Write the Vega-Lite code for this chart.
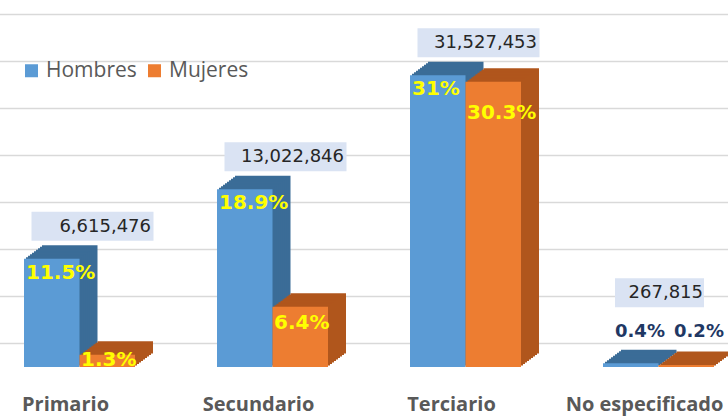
{
  "$schema": "https://vega.github.io/schema/vega-lite/v6.json",
  "width": 728,
  "height": 367,
  "autosize": {"type": "none"},
  "padding": {"left": 0, "top": 0, "right": 0, "bottom": 49},
  "background": "#ffffff",
  "config": {"view": {"stroke": null}},
  "data": {"values": [
    {"nivel": "Primario", "sexo": "Hombres", "pct": 0.115, "total": 6615476},
    {"nivel": "Primario", "sexo": "Mujeres", "pct": 0.013, "total": 6615476},
    {"nivel": "Secundario", "sexo": "Hombres", "pct": 0.189, "total": 13022846},
    {"nivel": "Secundario", "sexo": "Mujeres", "pct": 0.064, "total": 13022846},
    {"nivel": "Terciario", "sexo": "Hombres", "pct": 0.31, "total": 31527453},
    {"nivel": "Terciario", "sexo": "Mujeres", "pct": 0.303, "total": 31527453},
    {"nivel": "No especificado", "sexo": "Hombres", "pct": 0.004, "total": 267815},
    {"nivel": "No especificado", "sexo": "Mujeres", "pct": 0.002, "total": 267815}
  ]},
  "encoding": {
    "x": {"field": "nivel", "type": "nominal", "sort": null,
      "scale": {"type": "band", "domain": ["Primario", "Secundario", "Terciario", "No especificado"], "range": [-17, 755], "paddingInner": 0, "paddingOuter": 0},
      "axis": {"title": null, "labelFont": "Open Sans", "labelFontWeight": "bold", "labelFontSize": 20, "labelColor": "#595959", "labelPadding": 43, "labelBaseline": "alphabetic", "labelOffset": -14, "ticks": false, "tickSize": 0, "domain": false, "labelAngle": 0, "grid": false}},
    "y": {"field": "pct", "type": "quantitative",
      "scale": {"domain": [0, 0.39], "nice": false, "zero": true},
      "axis": {"title": null, "labels": false, "ticks": false, "domain": false, "grid": true, "values": [0.025, 0.075, 0.125, 0.175, 0.225, 0.275, 0.325, 0.375], "gridColor": "#d9d9d9", "gridWidth": 1.5}}
  },
  "layer": [
    {"transform": [{"filter": "datum.sexo === 'Hombres'"}], "mark": {"type": "bar", "width": 55.5, "xOffset": -9.75, "yOffset": -13.5, "y2Offset": -13.5, "color": "#3b6c97"}},
    {"transform": [{"filter": "datum.sexo === 'Hombres'"}], "mark": {"type": "bar", "width": 55.5, "xOffset": -11.75, "yOffset": -12, "y2Offset": -12, "color": "#3b6c97"}},
    {"transform": [{"filter": "datum.sexo === 'Hombres'"}], "mark": {"type": "bar", "width": 55.5, "xOffset": -13.75, "yOffset": -10.5, "y2Offset": -10.5, "color": "#3b6c97"}},
    {"transform": [{"filter": "datum.sexo === 'Hombres'"}], "mark": {"type": "bar", "width": 55.5, "xOffset": -15.75, "yOffset": -9, "y2Offset": -9, "color": "#3b6c97"}},
    {"transform": [{"filter": "datum.sexo === 'Hombres'"}], "mark": {"type": "bar", "width": 55.5, "xOffset": -17.75, "yOffset": -7.5, "y2Offset": -7.5, "color": "#3b6c97"}},
    {"transform": [{"filter": "datum.sexo === 'Hombres'"}], "mark": {"type": "bar", "width": 55.5, "xOffset": -19.75, "yOffset": -6, "y2Offset": -6, "color": "#3b6c97"}},
    {"transform": [{"filter": "datum.sexo === 'Hombres'"}], "mark": {"type": "bar", "width": 55.5, "xOffset": -21.75, "yOffset": -4.5, "y2Offset": -4.5, "color": "#3b6c97"}},
    {"transform": [{"filter": "datum.sexo === 'Hombres'"}], "mark": {"type": "bar", "width": 55.5, "xOffset": -23.75, "yOffset": -3, "y2Offset": -3, "color": "#3b6c97"}},
    {"transform": [{"filter": "datum.sexo === 'Hombres'"}], "mark": {"type": "bar", "width": 55.5, "xOffset": -25.75, "yOffset": -1.5, "y2Offset": -1.5, "color": "#3b6c97"}},
    {"transform": [{"filter": "datum.sexo === 'Mujeres'"}], "mark": {"type": "bar", "width": 55.5, "xOffset": 45.75, "yOffset": -13.5, "y2Offset": -13.5, "color": "#b0561c"}},
    {"transform": [{"filter": "datum.sexo === 'Mujeres'"}], "mark": {"type": "bar", "width": 55.5, "xOffset": 43.75, "yOffset": -12, "y2Offset": -12, "color": "#b0561c"}},
    {"transform": [{"filter": "datum.sexo === 'Mujeres'"}], "mark": {"type": "bar", "width": 55.5, "xOffset": 41.75, "yOffset": -10.5, "y2Offset": -10.5, "color": "#b0561c"}},
    {"transform": [{"filter": "datum.sexo === 'Mujeres'"}], "mark": {"type": "bar", "width": 55.5, "xOffset": 39.75, "yOffset": -9, "y2Offset": -9, "color": "#b0561c"}},
    {"transform": [{"filter": "datum.sexo === 'Mujeres'"}], "mark": {"type": "bar", "width": 55.5, "xOffset": 37.75, "yOffset": -7.5, "y2Offset": -7.5, "color": "#b0561c"}},
    {"transform": [{"filter": "datum.sexo === 'Mujeres'"}], "mark": {"type": "bar", "width": 55.5, "xOffset": 35.75, "yOffset": -6, "y2Offset": -6, "color": "#b0561c"}},
    {"transform": [{"filter": "datum.sexo === 'Mujeres'"}], "mark": {"type": "bar", "width": 55.5, "xOffset": 33.75, "yOffset": -4.5, "y2Offset": -4.5, "color": "#b0561c"}},
    {"transform": [{"filter": "datum.sexo === 'Mujeres'"}], "mark": {"type": "bar", "width": 55.5, "xOffset": 31.75, "yOffset": -3, "y2Offset": -3, "color": "#b0561c"}},
    {"transform": [{"filter": "datum.sexo === 'Mujeres'"}], "mark": {"type": "bar", "width": 55.5, "xOffset": 29.75, "yOffset": -1.5, "y2Offset": -1.5, "color": "#b0561c"}},
    {"transform": [{"filter": "datum.sexo === 'Hombres'"}], "mark": {"type": "bar", "width": 55.5, "xOffset": -27.75},
      "encoding": {"color": {"field": "sexo", "type": "nominal", "scale": {"domain": ["Hombres", "Mujeres"], "range": ["#5b9bd5", "#ed7d31"]},
        "legend": {"orient": "none", "legendX": 21, "legendY": 60, "direction": "horizontal", "title": null, "symbolType": "square", "symbolSize": 169, "symbolStrokeWidth": 0, "labelFont": "Open Sans", "labelFontSize": 21, "labelColor": "#595959", "labelOffset": 4, "columnPadding": 7}}}},
    {"transform": [{"filter": "datum.sexo === 'Mujeres'"}], "mark": {"type": "bar", "width": 55.5, "xOffset": 27.75},
      "encoding": {"color": {"field": "sexo", "type": "nominal", "scale": {"domain": ["Hombres", "Mujeres"], "range": ["#5b9bd5", "#ed7d31"]}}}},
    {"transform": [{"filter": "datum.sexo === 'Hombres' && datum.nivel !== 'No especificado'"}],
      "mark": {"type": "bar", "width": 122, "xOffset": 13, "yOffset": -47, "y2Offset": -18, "color": "#dae3f3"},
      "encoding": {"y2": {"field": "pct"}}},
    {"transform": [{"filter": "datum.sexo === 'Hombres' && datum.nivel === 'No especificado'"}],
      "mark": {"type": "bar", "width": 89, "xOffset": 1, "yOffset": -85, "y2Offset": -56, "color": "#dae3f3"},
      "encoding": {"y2": {"field": "pct"}}},
    {"transform": [{"filter": "datum.sexo === 'Hombres' && datum.nivel !== 'No especificado'"}],
      "mark": {"type": "text", "align": "right", "baseline": "alphabetic", "dx": 71.5, "dy": -27, "font": "DejaVu Sans", "fontSize": 18, "color": "#262626"},
      "encoding": {"text": {"field": "total", "type": "quantitative", "format": ","}}},
    {"transform": [{"filter": "datum.sexo === 'Hombres' && datum.nivel === 'No especificado'"}],
      "mark": {"type": "text", "align": "right", "baseline": "alphabetic", "dx": 44.5, "dy": -65, "font": "DejaVu Sans", "fontSize": 18, "color": "#262626"},
      "encoding": {"text": {"field": "total", "type": "quantitative", "format": ","}}},
    {"transform": [{"filter": "datum.sexo === 'Hombres' && datum.nivel !== 'No especificado'"}],
      "mark": {"type": "text", "align": "left", "baseline": "alphabetic", "dx": -53.5, "dy": 20, "font": "DejaVu Sans", "fontWeight": "bold", "fontSize": 20, "color": "#ffff00"},
      "encoding": {"text": {"field": "pct", "type": "quantitative", "format": ".1~%"}}},
    {"transform": [{"filter": "datum.sexo === 'Mujeres' && datum.nivel === 'Secundario'"}],
      "mark": {"type": "text", "align": "left", "baseline": "alphabetic", "dx": 1.5, "dy": 22, "font": "DejaVu Sans", "fontWeight": "bold", "fontSize": 20, "color": "#ffff00"},
      "encoding": {"text": {"field": "pct", "type": "quantitative", "format": ".1~%"}}},
    {"transform": [{"filter": "datum.sexo === 'Mujeres' && datum.nivel === 'Terciario'"}],
      "mark": {"type": "text", "align": "left", "baseline": "alphabetic", "dx": 1.5, "dy": 37, "font": "DejaVu Sans", "fontWeight": "bold", "fontSize": 20, "color": "#ffff00"},
      "encoding": {"text": {"field": "pct", "type": "quantitative", "format": ".1~%"}}},
    {"transform": [{"filter": "datum.sexo === 'Mujeres' && datum.nivel === 'Primario'"}],
      "mark": {"type": "text", "align": "left", "baseline": "alphabetic", "dx": 1.5, "dy": 11, "font": "DejaVu Sans", "fontWeight": "bold", "fontSize": 20, "color": "#ffff00"},
      "encoding": {"text": {"field": "pct", "type": "quantitative", "format": ".1~%"}}},
    {"transform": [{"filter": "datum.sexo === 'Hombres' && datum.nivel === 'No especificado'"}],
      "mark": {"type": "text", "align": "left", "baseline": "alphabetic", "dx": -43.5, "dy": -26, "font": "DejaVu Sans", "fontWeight": "bold", "fontSize": 18, "color": "#1f3864"},
      "encoding": {"text": {"field": "pct", "type": "quantitative", "format": ".1~%"}}},
    {"transform": [{"filter": "datum.sexo === 'Mujeres' && datum.nivel === 'No especificado'"}],
      "mark": {"type": "text", "align": "left", "baseline": "alphabetic", "dx": 15.5, "dy": -28, "font": "DejaVu Sans", "fontWeight": "bold", "fontSize": 18, "color": "#1f3864"},
      "encoding": {"text": {"field": "pct", "type": "quantitative", "format": ".1~%"}}}
  ]
}
